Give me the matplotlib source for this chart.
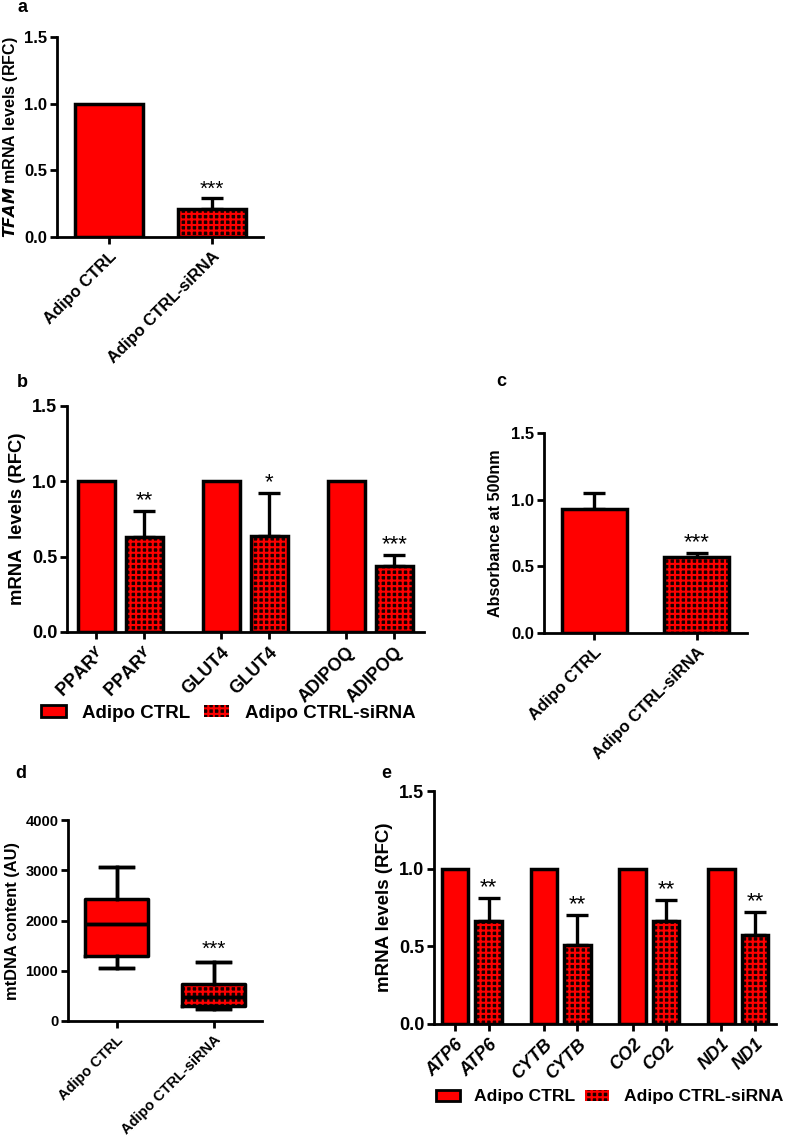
import matplotlib
matplotlib.use("Agg")
import matplotlib.pyplot as plt
from matplotlib.patches import Patch
import numpy as np

plt.rcParams['font.family'] = ['Liberation Sans', 'DejaVu Sans']
plt.rcParams['font.weight'] = 'bold'
plt.rcParams['hatch.linewidth'] = 1.5
plt.rcParams['axes.linewidth'] = 2.0

RED = '#ff0000'
DARK = '#1a0000'
HATCH = '+++'

# ---------------- data ----------------
groups_a = ["Adipo CTRL", "Adipo CTRL-siRNA"]
tfam_mean = [1.0, 0.21]
tfam_err = [0.0, 0.08]
tfam_sig = ["", "***"]

genes_b = ["PPAR$^{\\gamma}$", "PPAR$^{\\gamma}$", "GLUT4", "GLUT4", "ADIPOQ", "ADIPOQ"]
b_mean = [1.0, 0.63, 1.0, 0.64, 1.0, 0.44]
b_err = [0.0, 0.17, 0.0, 0.28, 0.0, 0.07]
b_sig = ["", "**", "", "*", "", "***"]
b_pos = [0, 1, 2.6, 3.6, 5.2, 6.2]
kind_b = [0, 1, 0, 1, 0, 1]

c_mean = [0.93, 0.57]
c_err = [0.12, 0.03]
c_sig = ["", "***"]

d_med = [1930, 480]
d_q1 = [1300, 300]
d_q3 = [2420, 730]
d_lo = [1050, 230]
d_hi = [3070, 1170]
d_sig = ["", "***"]

genes_e = ["ATP6", "ATP6", "CYTB", "CYTB", "CO2", "CO2", "ND1", "ND1"]
e_mean = [1.0, 0.66, 1.0, 0.51, 1.0, 0.66, 1.0, 0.57]
e_err = [0.0, 0.15, 0.0, 0.19, 0.0, 0.14, 0.0, 0.15]
e_sig = ["", "**", "", "**", "", "**", "", "**"]
e_pos = [0, 1, 2.65, 3.65, 5.3, 6.3, 7.95, 8.95]
kind_e = [0, 1, 0, 1, 0, 1, 0, 1]

legend_labels = ["Adipo CTRL", "Adipo CTRL-siRNA"]

W, H = 797, 1139
fig = plt.figure(figsize=(W / 100, H / 100), dpi=100)


def add_ax(x0, x1, ytop, ybot):
    return fig.add_axes([x0 / W, 1 - ybot / H, (x1 - x0) / W, (ybot - ytop) / H])


def style(ax, ytick_fs=12):
    ax.spines['top'].set_visible(False)
    ax.spines['right'].set_visible(False)
    ax.tick_params(axis='both', width=2, length=5, labelsize=ytick_fs)
    ax.tick_params(axis='y', pad=2)
    for t in ax.get_yticklabels():
        t.set_fontweight('bold')


def draw_bars(ax, pos, vals, errs, kinds, width, sigs, sig_fs=15, sig_off=0.0):
    for p, v, e, k, s in zip(pos, vals, errs, kinds, sigs):
        if e > 0:
            ax.errorbar(p, v, yerr=[[0], [e]], fmt='none', ecolor='black',
                        elinewidth=2.4, capsize=8, capthick=2.4, zorder=1)
        if k == 0:
            ax.bar(p, v, width=width, color=RED, edgecolor='black', linewidth=2.5, zorder=2)
        else:
            ax.bar(p, v, width=width, color=DARK, edgecolor=RED, hatch=HATCH,
                   linewidth=0, zorder=2)
            ax.bar(p, v, width=width, fill=False, edgecolor='black', linewidth=2.5, zorder=3)
        if s:
            ax.text(p, v + e + sig_off, s, ha='center', va='bottom', fontsize=sig_fs,
                    fontweight='normal', zorder=4)


def make_legend(x, y, fs, colsp=0.7):
    handles = [Patch(facecolor=RED, edgecolor='black', linewidth=2),
               Patch(facecolor=DARK, edgecolor=RED, hatch=HATCH, linewidth=0)]
    return fig.legend(handles, legend_labels, loc='center left',
                      bbox_to_anchor=(x / W, 1 - y / H), ncol=2, frameon=False,
                      prop={'size': fs, 'weight': 'bold'}, handlelength=1.35,
                      handleheight=0.6, columnspacing=colsp, handletextpad=0.85,
                      borderpad=0, borderaxespad=0)


# ---------------- panel a ----------------
ax = add_ax(57, 263, 37, 237)
draw_bars(ax, [0, 1], tfam_mean, tfam_err, [0, 1], 0.66, tfam_sig, sig_fs=15)
ax.set_xlim(-0.505, 1.495)
ax.set_ylim(0, 1.5)
ax.set_yticks([0, 0.5, 1.0, 1.5])
ax.set_yticklabels(["0.0", "0.5", "1.0", "1.5"])
ax.set_xticks([0, 1])
ax.set_xticklabels(groups_a, rotation=45, ha='right', rotation_mode='anchor',
                   fontsize=9.5, fontweight='bold')
ax.set_ylabel("$\\it{TFAM}$ mRNA levels (RFC)", fontsize=11.5, fontweight='bold', labelpad=3)
style(ax, 12)
fig.text(23 / W, 1 - 8 / H, "a", fontsize=13, fontweight='bold', va='center', ha='center')

# ---------------- panel b ----------------
ax = add_ax(67, 424, 406, 632)
draw_bars(ax, b_pos, b_mean, b_err, kind_b, 0.77, b_sig, sig_fs=16)
ax.set_xlim(-0.61, 6.82)
ax.set_ylim(0, 1.5)
ax.set_yticks([0, 0.5, 1.0, 1.5])
ax.set_yticklabels(["0.0", "0.5", "1.0", "1.5"])
ax.set_xticks(b_pos)
ax.set_xticklabels(genes_b, rotation=45, ha='right', rotation_mode='anchor',
                   fontsize=12, fontweight='bold')
ax.set_ylabel("mRNA  levels (RFC)", fontsize=13.3, fontweight='bold', labelpad=4)
style(ax, 13)
make_legend(41, 713, 13.5)
fig.text(22 / W, 1 - 383 / H, "b", fontsize=13, fontweight='bold', va='center', ha='center')

# ---------------- panel c ----------------
ax = add_ax(544, 747, 433, 633)
draw_bars(ax, [0, 1], c_mean, c_err, [0, 1], 0.64, c_sig, sig_fs=16)
ax.set_xlim(-0.495, 1.495)
ax.set_ylim(0, 1.5)
ax.set_yticks([0, 0.5, 1.0, 1.5])
ax.set_yticklabels(["0.0", "0.5", "1.0", "1.5"])
ax.set_xticks([0, 1])
ax.set_xticklabels(groups_a, rotation=45, ha='right', rotation_mode='anchor',
                   fontsize=9.5, fontweight='bold')
ax.set_ylabel("Absorbance at 500nm", fontsize=11.6, fontweight='bold', labelpad=6)
style(ax, 12)
fig.text(501 / W, 1 - 382 / H, "c", fontsize=13, fontweight='bold', va='center', ha='center')

# ---------------- panel d ----------------
ax = add_ax(68, 262, 820, 1021)
stats = []
for i in range(2):
    stats.append(dict(med=d_med[i], q1=d_q1[i], q3=d_q3[i], whislo=d_lo[i],
                      whishi=d_hi[i], fliers=[]))
# filled boxes (second one hatched in red)
bp = ax.bxp(stats, positions=[0, 1], widths=0.65, patch_artist=True, showfliers=False,
            boxprops=dict(linewidth=0),
            medianprops=dict(color='black', linewidth=2.5),
            whiskerprops=dict(color='black', linewidth=2.5),
            capprops=dict(color='black', linewidth=2.5), capwidths=0.34,
            manage_ticks=False)
bp['boxes'][0].set_facecolor(RED)
bp['boxes'][1].set_facecolor(DARK)
bp['boxes'][1].set_edgecolor(RED)
bp['boxes'][1].set_hatch(HATCH)
# black outlines on top
ax.bxp(stats, positions=[0, 1], widths=0.65, patch_artist=False, showfliers=False,
       boxprops=dict(color='black', linewidth=2.5),
       medianprops=dict(color='black', linewidth=2.5),
       whiskerprops=dict(color='black', linewidth=2.5),
       capprops=dict(color='black', linewidth=2.5), capwidths=0.34,
       manage_ticks=False)
for i, s in enumerate(d_sig):
    if s:
        ax.text(i, d_hi[i] + 60, s, ha='center', va='bottom', fontsize=15, fontweight='normal')
ax.set_xlim(-0.5, 1.5)
ax.set_ylim(0, 4000)
ax.set_yticks([0, 1000, 2000, 3000, 4000])
ax.set_xticks([0, 1])
ax.set_xticklabels(groups_a, rotation=45, ha='right', rotation_mode='anchor',
                   fontsize=9.2, fontweight='bold')
ax.set_ylabel("mtDNA content (AU)", fontsize=11.8, fontweight='bold', labelpad=4)
style(ax, 10.5)
fig.text(21 / W, 1 - 773 / H, "d", fontsize=13, fontweight='bold', va='center', ha='center')

# ---------------- panel e ----------------
ax = add_ax(434, 776, 791, 1024)
draw_bars(ax, e_pos, e_mean, e_err, kind_e, 0.79, e_sig, sig_fs=16)
ax.set_xlim(-0.63, 9.58)
ax.set_ylim(0, 1.5)
ax.set_yticks([0, 0.5, 1.0, 1.5])
ax.set_yticklabels(["0.0", "0.5", "1.0", "1.5"])
ax.set_xticks(e_pos)
ax.set_xticklabels(genes_e, rotation=45, ha='right', rotation_mode='anchor',
                   fontsize=11.5, fontweight='bold', fontstyle='italic')
ax.set_ylabel("mRNA levels (RFC)", fontsize=13.5, fontweight='bold', labelpad=4)
style(ax, 13)
make_legend(436, 1097, 12.6, colsp=0.55)
fig.text(386 / W, 1 - 773 / H, "e", fontsize=13, fontweight='bold', va='center', ha='center')

fig.savefig("out.png", dpi=100)
